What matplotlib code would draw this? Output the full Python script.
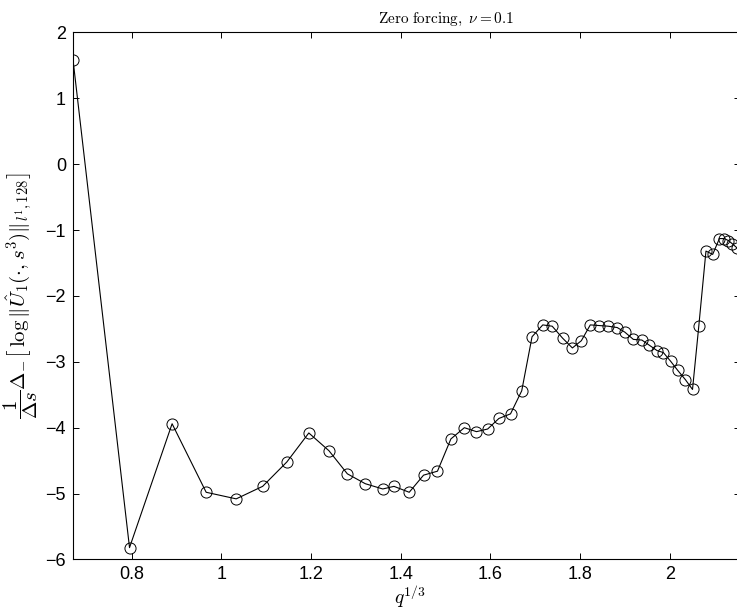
import numpy as np
import matplotlib
matplotlib.use('Agg')
import matplotlib.pyplot as plt

plt.rcParams['mathtext.fontset'] = 'cm'
plt.rcParams['font.family'] = ['Liberation Sans', 'DejaVu Sans']

# values
q13 = [0.669, 0.795, 0.890, 0.966, 1.033, 1.092, 1.146, 1.195, 1.240, 1.281,
       1.321, 1.360, 1.385, 1.419, 1.451, 1.482, 1.512, 1.542, 1.569, 1.594,
       1.619, 1.645, 1.670, 1.693, 1.717, 1.738, 1.761, 1.783, 1.803, 1.823,
       1.843, 1.863, 1.883, 1.900, 1.919, 1.938, 1.955, 1.972, 1.986, 2.002,
       2.018, 2.035, 2.051, 2.065, 2.081, 2.096, 2.111, 2.122, 2.131, 2.140,
       2.150]
rate = [1.58, -5.82, -3.94, -4.98, -5.08, -4.89, -4.52, -4.08, -4.35, -4.70,
        -4.85, -4.93, -4.89, -4.98, -4.72, -4.66, -4.17, -4.00, -4.06, -4.02,
        -3.86, -3.79, -3.44, -2.62, -2.44, -2.46, -2.64, -2.79, -2.68, -2.44,
        -2.45, -2.46, -2.48, -2.55, -2.66, -2.67, -2.75, -2.83, -2.86, -2.99,
        -3.13, -3.27, -3.42, -2.46, -1.32, -1.37, -1.13, -1.13, -1.16, -1.21,
        -1.27]
xticks = [0.8, 1.0, 1.2, 1.4, 1.6, 1.8, 2.0]
xticklabels = ['0.8', '1', '1.2', '1.4', '1.6', '1.8', '2']
yticks = [-6, -5, -4, -3, -2, -1, 0, 1, 2]

fig = plt.figure(figsize=(7.37, 6.12), dpi=100)
ax = fig.add_axes([0.0991, 0.0858, 0.905, 0.8614])

ax.plot(q13, rate, color='black', linewidth=0.8, marker='o', markersize=8,
        markerfacecolor='none', markeredgecolor='black', markeredgewidth=0.7)

ax.set_xlim(q13[0], 2.157)
ax.set_ylim(-6, 2)
ax.set_xticks(xticks)
ax.set_xticklabels(xticklabels)
ax.set_yticks(yticks)
ax.tick_params(direction='in', length=4.5, width=0.7, labelsize=13,
               top=True, right=True, pad=5)
for sp in ax.spines.values():
    sp.set_linewidth(0.8)

ax.set_xlabel(r'$q^{1/3}$', fontsize=14, va='center')
ax.xaxis.set_label_coords(0.505, -0.07)
ax.set_ylabel(r'$\dfrac{1}{\Delta s}\Delta_{-}\left[\,\log\|\hat{U}_1(\cdot,s^3)\|_{l^1,128}\right]$',
              fontsize=15, va='center')
ax.yaxis.set_label_coords(-0.078, 0.5)

fig.text(446 / 737, 1 - 19 / 612, r'$\mathrm{Zero\ forcing,}\ \nu = 0.1$',
         ha='center', va='center', fontsize=11)

fig.savefig('out.png', dpi=100)
